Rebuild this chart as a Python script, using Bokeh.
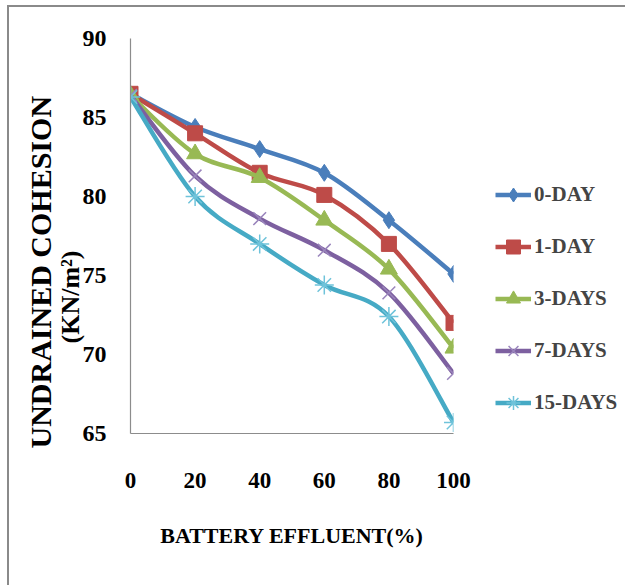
from bokeh.plotting import figure
from bokeh.models import Legend, LegendItem, Title, FixedTicker, Range1d
from bokeh.embed import file_html
from bokeh.resources import INLINE

# ---- data ----
effluent = [0, 20, 40, 60, 80, 100]
series_names = ["0-DAY", "1-DAY", "3-DAYS", "7-DAYS", "15-DAYS"]
day0 = [86.5, 84.4, 83.0, 81.5, 78.5, 75.1]
day1 = [86.5, 84.0, 81.5, 80.1, 77.0, 72.0]
day3 = [86.4, 82.7, 81.2, 78.5, 75.4, 70.4]
day7 = [86.4, 81.3, 78.6, 76.6, 73.9, 68.8]
day15 = [86.3, 80.0, 77.0, 74.4, 72.4, 65.7]
y_ticks = [65, 70, 75, 80, 85, 90]

colors = ["#4A7EBB", "#BE4B48", "#98B954", "#7D60A0", "#46AAC5"]
marker_colors = ["#4A7EBB", "#BE4B48", "#98B954", "#9A85BC", "#6FC3DA"]
markers = ["diamond", "square", "triangle", "x", "asterisk"]
marker_sizes = [17, 15, 17, 18, 19]
all_series = [day0, day1, day3, day7, day15]

FONT = "Liberation Serif"

p = figure(frame_width=323, frame_height=395, min_border_left=130, min_border_top=38,
           min_border_bottom=152, min_border_right=172, output_backend="svg",
           toolbar_location=None, x_range=Range1d(0, 100), y_range=Range1d(65, 90))
p.outline_line_color = None
p.xgrid.visible = False
p.ygrid.visible = False
p.background_fill_color = "white"
p.border_fill_alpha = 0
p.styles = {
    "background-color": "white",
    "background-image": "linear-gradient(#8a8a8a, #8a8a8a), linear-gradient(#8a8a8a, #8a8a8a)",
    "background-size": "100% 2px, 2px 100%",
    "background-position": "7px 5px, 7px 5px",
    "background-repeat": "no-repeat",
}

for ax in (p.xaxis[0], p.yaxis[0]):
    ax.axis_line_color = "#8C8C8C"
    ax.axis_line_width = 1.2
    ax.major_tick_line_color = None
    ax.minor_tick_line_color = None
    ax.major_label_text_font = FONT
    ax.major_label_text_font_style = "bold"
    ax.major_label_text_color = "black"

p.xaxis.ticker = FixedTicker(ticks=effluent)
p.yaxis.ticker = FixedTicker(ticks=y_ticks)
p.xaxis.major_label_text_font_size = "23px"
p.yaxis.major_label_text_font_size = "24px"
p.xaxis.major_label_standoff = 33
p.yaxis.major_label_standoff = 18

p.xaxis.axis_label = "BATTERY EFFLUENT(%)"
p.xaxis.axis_label_text_font = FONT
p.xaxis.axis_label_text_font_style = "bold"
p.xaxis.axis_label_text_font_size = "22px"
p.xaxis.axis_label_text_color = "black"
p.xaxis.axis_label_standoff = 32


def smooth(xs, ys):
    n = len(xs)
    out = {k: [] for k in ("x0", "y0", "x1", "y1", "cx0", "cy0", "cx1", "cy1")}
    for i in range(n - 1):
        a = max(i - 1, 0)
        b = min(i + 2, n - 1)
        out["x0"].append(xs[i]); out["y0"].append(ys[i])
        out["x1"].append(xs[i + 1]); out["y1"].append(ys[i + 1])
        out["cx0"].append(xs[i] + (xs[i + 1] - xs[a]) / 6)
        out["cy0"].append(ys[i] + (ys[i + 1] - ys[a]) / 6)
        out["cx1"].append(xs[i + 1] - (xs[b] - xs[i]) / 6)
        out["cy1"].append(ys[i + 1] - (ys[b] - ys[i]) / 6)
    return out


items = []
for name, ys, c, mc, m, ms in zip(series_names, all_series, colors, marker_colors, markers, marker_sizes):
    seg = smooth(effluent, ys)
    bez = p.bezier(line_color=c, line_width=4.5, **seg)
    if m in ("x", "asterisk"):
        sc = p.scatter(effluent, ys, marker=m, size=ms, line_color=mc, line_width=1.5)
    else:
        sc = p.scatter(effluent, ys, marker=m, size=ms, fill_color=c, line_color=c)
    items.append(LegendItem(label=name, renderers=[bez, sc]))

legend = Legend(items=items, location=(42, 13), orientation="vertical",
                glyph_width=36, glyph_height=35, label_height=20, spacing=17,
                padding=0, margin=0, border_line_color=None, background_fill_alpha=0,
                label_text_font=FONT, label_text_font_style="bold",
                label_text_font_size="21px", label_standoff=3)
p.add_layout(legend, "right")

# y-axis title (two lines), inner line first
p.add_layout(Title(text="(KN/m²)", align="left", offset=90, standoff=-10,
                   text_font=FONT, text_font_style="bold", text_font_size="26px",
                   text_color="black"), "left")
p.add_layout(Title(text="UNDRAINED COHESION", align="left", offset=-15, standoff=4,
                   text_font=FONT, text_font_style="bold", text_font_size="30px",
                   text_color="black"), "left")

open("out.html", "w").write(file_html(p, INLINE))
